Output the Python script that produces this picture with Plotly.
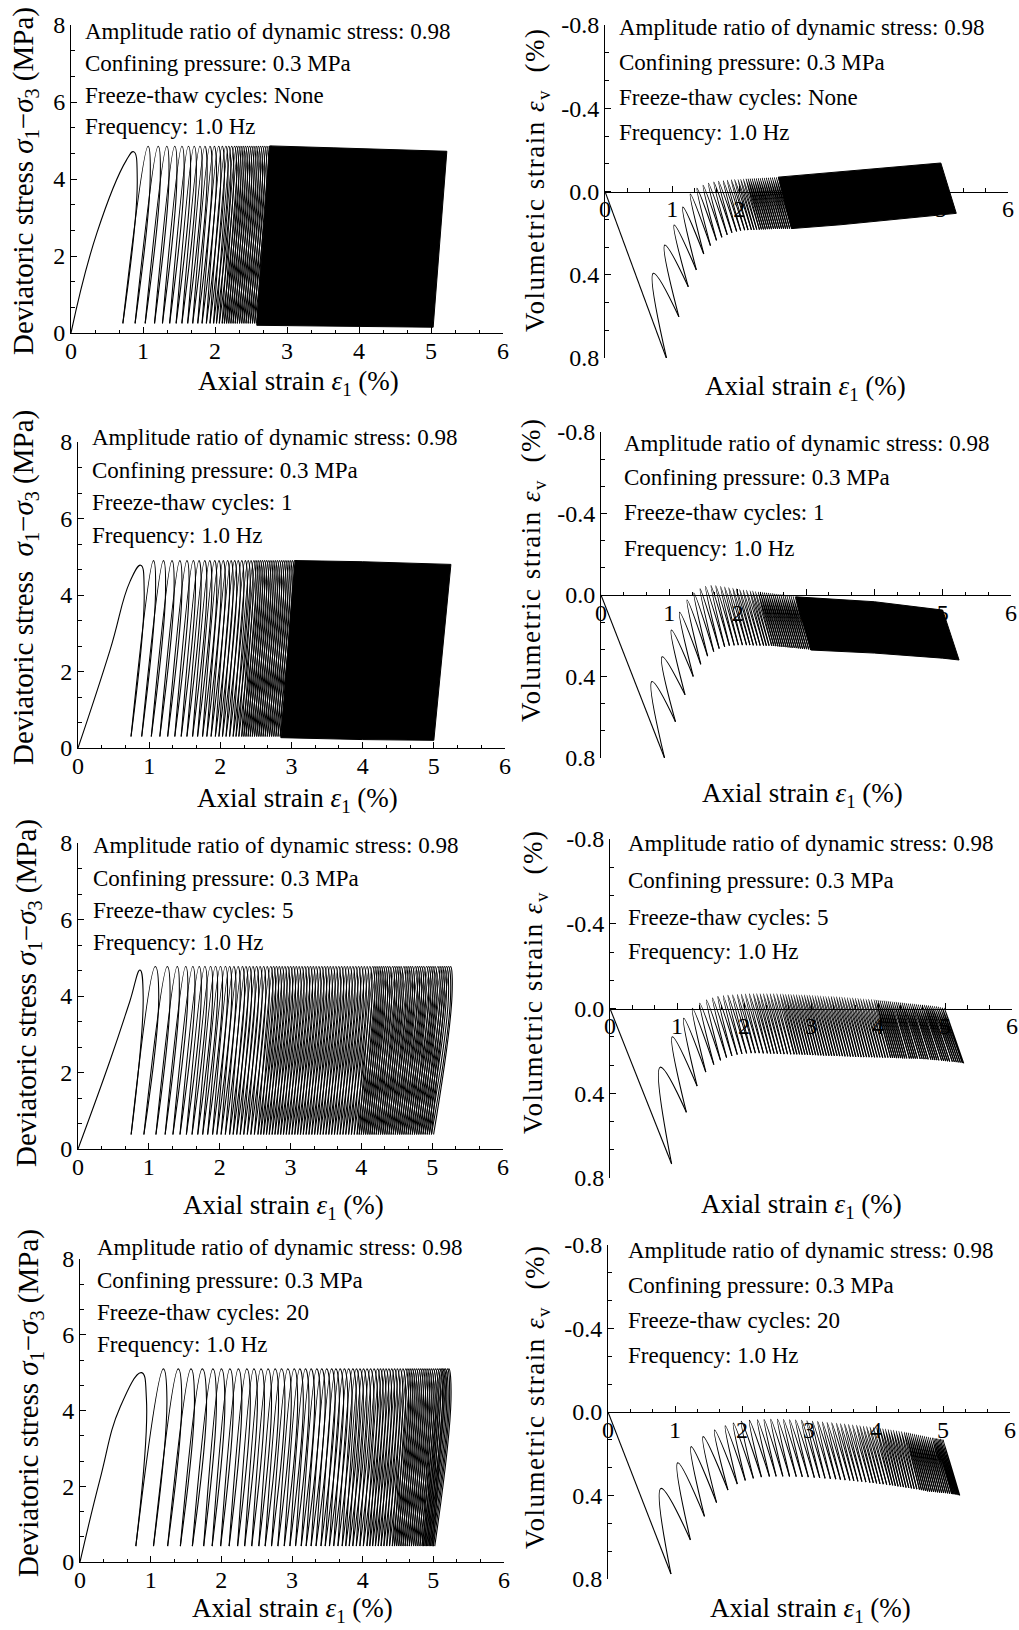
import plotly.graph_objects as go

W, H = 1019, 1630
FONT = "Liberation Serif"

# ---------------- data ----------------
# Row 1: no freeze-thaw.  Per cycle: valley strain (min stress), peak strain (max stress),
# max strain (shoulder just after the peak)
a_init_x = [0.0, 0.36, 0.77]
a_init_y = [0.0, 2.60, 4.49]
a_valley = [0.72, 0.89, 1.03, 1.16, 1.27, 1.37, 1.46, 1.54, 1.62, 1.69,
            1.76, 1.82, 1.88, 1.93, 1.98, 2.02, 2.06, 2.10, 2.13, 2.16,
            2.19, 2.22, 2.25, 2.28, 2.31, 2.34, 2.37, 2.40, 2.43, 2.46,
            2.49, 2.52, 2.55, 2.58, 2.61]
a_peak = [0.87, 1.07, 1.21, 1.33, 1.44, 1.54, 1.63, 1.71, 1.79, 1.86,
          1.93, 1.99, 2.05, 2.10, 2.15, 2.19, 2.23, 2.27, 2.30, 2.33,
          2.36, 2.39, 2.42, 2.45, 2.48, 2.51, 2.54, 2.57, 2.60, 2.63,
          2.66, 2.69, 2.72, 2.75, 2.78]
a_maxstrain = [0.92, 1.10, 1.24, 1.36, 1.47, 1.57, 1.66, 1.74, 1.82, 1.89,
               1.96, 2.02, 2.08, 2.13, 2.18, 2.22, 2.26, 2.30, 2.33, 2.36,
               2.39, 2.42, 2.45, 2.48, 2.51, 2.54, 2.57, 2.60, 2.63, 2.66,
               2.69, 2.72, 2.75, 2.78, 2.81]
a_stress = [4.71, 4.85, 4.00, 0.25]   # first peak, later peaks, shoulder, valleys (MPa)
a_dense_x = [2.58, 2.76, 3.64, 5.22, 5.03, 3.80]
a_dense_y = [0.20, 4.86, 4.81, 4.72, 0.15, 0.17]
b_top = [0.393, 0.257, 0.161, 0.075, 0.012, -0.015, -0.030, -0.040, -0.045, -0.049,
         -0.052, -0.054, -0.056, -0.057, -0.058, -0.059, -0.060, -0.061, -0.061, -0.062,
         -0.062, -0.063, -0.063, -0.064, -0.064, -0.065, -0.065, -0.066, -0.066, -0.067,
         -0.067, -0.068, -0.068, -0.069, -0.069]
b_bottom = [0.806, 0.602, 0.458, 0.377, 0.300, 0.260, 0.235, 0.220, 0.208, 0.198,
            0.192, 0.188, 0.186, 0.185, 0.184, 0.184, 0.183, 0.183, 0.182, 0.182,
            0.182, 0.181, 0.181, 0.181, 0.180, 0.180, 0.180, 0.180, 0.179, 0.179,
            0.179, 0.179, 0.178, 0.178, 0.178]
b_dense_x = [2.58, 3.47, 5.00, 5.23, 3.50, 2.78]
b_dense_y = [-0.069, -0.095, -0.137, 0.105, 0.160, 0.178]

# Row 2: 1 freeze-thaw cycle
c_init_x = [0.0, 0.45, 0.73]
c_init_y = [0.0, 2.56, 4.35]
c_valley = [0.745, 0.895, 1.03, 1.15, 1.26, 1.36, 1.45, 1.53, 1.61, 1.68,
            1.75, 1.81, 1.87, 1.93, 1.98, 2.03, 2.08, 2.13, 2.18, 2.22,
            2.26, 2.30, 2.33, 2.36, 2.39, 2.42, 2.45, 2.48, 2.51, 2.54,
            2.57, 2.60, 2.63, 2.66, 2.69, 2.72, 2.75, 2.78, 2.81, 2.84,
            2.87, 2.90]
c_peak = [0.88, 1.06, 1.20, 1.32, 1.43, 1.53, 1.62, 1.70, 1.78, 1.85,
          1.92, 1.98, 2.04, 2.10, 2.15, 2.20, 2.25, 2.30, 2.35, 2.39,
          2.43, 2.47, 2.50, 2.53, 2.56, 2.59, 2.62, 2.65, 2.68, 2.71,
          2.74, 2.77, 2.80, 2.83, 2.86, 2.89, 2.92, 2.95, 2.98, 3.01,
          3.04, 3.07]
c_maxstrain = [0.93, 1.09, 1.23, 1.35, 1.46, 1.56, 1.65, 1.73, 1.81, 1.88,
               1.95, 2.01, 2.07, 2.13, 2.18, 2.23, 2.28, 2.33, 2.38, 2.42,
               2.46, 2.50, 2.53, 2.56, 2.59, 2.62, 2.65, 2.68, 2.71, 2.74,
               2.77, 2.80, 2.83, 2.86, 2.89, 2.92, 2.95, 2.98, 3.01, 3.04,
               3.07, 3.10]
c_stress = [4.78, 4.90, 4.10, 0.30]
c_dense_x = [2.85, 3.05, 4.00, 5.24, 5.00, 4.00]
c_dense_y = [0.27, 4.90, 4.87, 4.80, 0.20, 0.22]
d_top = [0.425, 0.303, 0.172, 0.085, 0.025, -0.010, -0.030, -0.042, -0.046, -0.045,
         -0.042, -0.039, -0.036, -0.033, -0.030, -0.027, -0.025, -0.023, -0.021, -0.019,
         -0.017, -0.015, -0.014, -0.013, -0.012, -0.011, -0.010, -0.009, -0.008, -0.006,
         -0.005, -0.004, -0.003, -0.002, 0.000, 0.002, 0.003, 0.005, 0.006, 0.008,
         0.010, 0.012]
d_bottom = [0.800, 0.622, 0.490, 0.400, 0.340, 0.300, 0.278, 0.263, 0.254, 0.249,
            0.247, 0.246, 0.246, 0.246, 0.246, 0.247, 0.247, 0.248, 0.248, 0.249,
            0.249, 0.250, 0.250, 0.251, 0.252, 0.253, 0.254, 0.255, 0.256, 0.257,
            0.258, 0.259, 0.260, 0.261, 0.262, 0.263, 0.264, 0.265, 0.266, 0.267,
            0.268, 0.270]
d_dense_x = [2.85, 4.00, 5.00, 5.24, 5.00, 4.00, 3.07]
d_dense_y = [0.009, 0.033, 0.074, 0.319, 0.310, 0.285, 0.270]

# Row 3: 5 freeze-thaw cycles
e_init_x = [0.0, 0.45, 0.73]
e_init_y = [0.0, 2.30, 3.85]
e_valley = [0.75, 0.93, 1.10, 1.23, 1.34, 1.44, 1.53, 1.61, 1.69, 1.76,
            1.83, 1.90, 1.96, 2.02, 2.08, 2.14, 2.19, 2.24, 2.29, 2.34,
            2.39, 2.44, 2.49, 2.54, 2.58, 2.62, 2.66, 2.70, 2.74, 2.78,
            2.82, 2.86, 2.90, 2.94, 2.98, 3.02, 3.06, 3.10, 3.14, 3.18,
            3.22, 3.26, 3.30, 3.34, 3.38, 3.42, 3.46, 3.50, 3.54, 3.58,
            3.62, 3.66, 3.70, 3.74, 3.78, 3.82, 3.86, 3.90, 3.94, 3.97,
            4.00, 4.03, 4.06, 4.09, 4.12, 4.15, 4.18, 4.21, 4.24, 4.27,
            4.30, 4.33, 4.36, 4.39, 4.42, 4.45, 4.48, 4.51, 4.54, 4.57,
            4.60, 4.63, 4.66, 4.69, 4.72, 4.75, 4.78, 4.81, 4.84, 4.87,
            4.90, 4.93, 4.96, 4.99, 5.02]
e_peak = [0.875, 1.09, 1.26, 1.40, 1.52, 1.62, 1.71, 1.79, 1.87, 1.94,
          2.01, 2.08, 2.14, 2.20, 2.26, 2.32, 2.37, 2.42, 2.47, 2.52,
          2.57, 2.62, 2.67, 2.72, 2.76, 2.80, 2.84, 2.88, 2.92, 2.96,
          3.00, 3.04, 3.08, 3.12, 3.16, 3.20, 3.24, 3.28, 3.32, 3.36,
          3.40, 3.44, 3.48, 3.52, 3.56, 3.60, 3.64, 3.68, 3.72, 3.76,
          3.80, 3.84, 3.88, 3.92, 3.96, 4.00, 4.04, 4.08, 4.12, 4.16,
          4.19, 4.22, 4.25, 4.28, 4.31, 4.34, 4.37, 4.40, 4.44, 4.47,
          4.50, 4.53, 4.56, 4.60, 4.63, 4.66, 4.69, 4.72, 4.76, 4.79,
          4.82, 4.85, 4.88, 4.92, 4.95, 4.98, 5.01, 5.04, 5.08, 5.11,
          5.14, 5.17, 5.20, 5.23, 5.26]
e_maxstrain = [0.92, 1.14, 1.30, 1.43, 1.55, 1.65, 1.74, 1.82, 1.90, 1.97,
               2.04, 2.11, 2.17, 2.23, 2.29, 2.35, 2.40, 2.45, 2.50, 2.55,
               2.60, 2.65, 2.70, 2.75, 2.79, 2.83, 2.87, 2.91, 2.95, 2.99,
               3.03, 3.07, 3.11, 3.15, 3.19, 3.23, 3.27, 3.31, 3.35, 3.39,
               3.43, 3.47, 3.51, 3.55, 3.59, 3.63, 3.67, 3.71, 3.75, 3.79,
               3.83, 3.87, 3.91, 3.95, 3.99, 4.03, 4.07, 4.11, 4.15, 4.19,
               4.22, 4.25, 4.28, 4.31, 4.34, 4.37, 4.40, 4.43, 4.47, 4.50,
               4.53, 4.56, 4.59, 4.63, 4.66, 4.69, 4.72, 4.75, 4.79, 4.82,
               4.85, 4.88, 4.91, 4.95, 4.98, 5.01, 5.04, 5.07, 5.11, 5.14,
               5.17, 5.20, 5.23, 5.26, 5.28]
e_stress = [4.68, 4.77, 4.00, 0.38]
f_top = [0.277, 0.133, 0.046, -0.001, -0.025, -0.040, -0.050, -0.056, -0.060, -0.062,
         -0.064, -0.066, -0.067, -0.068, -0.069, -0.069, -0.069, -0.069, -0.069, -0.069,
         -0.069, -0.069, -0.069, -0.068, -0.068, -0.067, -0.067, -0.066, -0.066, -0.065,
         -0.064, -0.064, -0.063, -0.062, -0.062, -0.061, -0.060, -0.060, -0.059, -0.058,
         -0.057, -0.057, -0.056, -0.055, -0.055, -0.054, -0.053, -0.052, -0.051, -0.050,
         -0.049, -0.048, -0.047, -0.046, -0.045, -0.044, -0.043, -0.042, -0.041, -0.040,
         -0.039, -0.038, -0.037, -0.036, -0.035, -0.034, -0.033, -0.032, -0.031, -0.030,
         -0.029, -0.028, -0.027, -0.026, -0.025, -0.024, -0.023, -0.022, -0.021, -0.020,
         -0.019, -0.018, -0.017, -0.016, -0.015, -0.014, -0.013, -0.012, -0.011, -0.010,
         -0.008, -0.006, -0.004, -0.002, 0.000]
f_bottom = [0.734, 0.490, 0.366, 0.300, 0.265, 0.245, 0.232, 0.224, 0.218, 0.214,
            0.212, 0.211, 0.211, 0.211, 0.212, 0.212, 0.213, 0.213, 0.214, 0.214,
            0.215, 0.215, 0.216, 0.216, 0.217, 0.217, 0.218, 0.218, 0.219, 0.219,
            0.220, 0.220, 0.221, 0.221, 0.222, 0.222, 0.223, 0.223, 0.224, 0.224,
            0.225, 0.225, 0.226, 0.226, 0.227, 0.227, 0.228, 0.228, 0.229, 0.229,
            0.230, 0.230, 0.230, 0.231, 0.231, 0.231, 0.232, 0.232, 0.232, 0.233,
            0.233, 0.233, 0.234, 0.234, 0.234, 0.235, 0.235, 0.235, 0.236, 0.236,
            0.236, 0.237, 0.237, 0.238, 0.238, 0.239, 0.239, 0.240, 0.241, 0.242,
            0.243, 0.244, 0.245, 0.246, 0.247, 0.248, 0.249, 0.250, 0.251, 0.252,
            0.253, 0.254, 0.255, 0.257, 0.259]

# Row 4: 20 freeze-thaw cycles
g_init_x = [0.0, 0.28, 0.57]
g_init_y = [0.0, 2.16, 4.10]
g_valley = [0.79, 1.04, 1.24, 1.42, 1.59, 1.75, 1.87, 1.99, 2.11, 2.23,
            2.33, 2.43, 2.53, 2.62, 2.71, 2.80, 2.89, 2.97, 3.05, 3.13,
            3.20, 3.27, 3.34, 3.41, 3.47, 3.53, 3.59, 3.65, 3.71, 3.76,
            3.81, 3.86, 3.91, 3.96, 4.01, 4.06, 4.10, 4.14, 4.18, 4.22,
            4.26, 4.30, 4.34, 4.38, 4.42, 4.45, 4.48, 4.51, 4.54, 4.57,
            4.60, 4.63, 4.66, 4.69, 4.72, 4.75, 4.78, 4.81, 4.84, 4.86,
            4.88, 4.90, 4.92, 4.94, 4.96, 4.98, 5.00, 5.02]
g_peak = [0.87, 1.18, 1.39, 1.57, 1.73, 1.88, 2.00, 2.12, 2.24, 2.36,
          2.46, 2.56, 2.66, 2.76, 2.85, 2.94, 3.03, 3.11, 3.19, 3.27,
          3.35, 3.42, 3.49, 3.56, 3.62, 3.68, 3.74, 3.80, 3.86, 3.91,
          3.96, 4.01, 4.06, 4.11, 4.16, 4.21, 4.25, 4.29, 4.33, 4.37,
          4.41, 4.45, 4.49, 4.53, 4.57, 4.61, 4.64, 4.67, 4.70, 4.73,
          4.76, 4.79, 4.82, 4.85, 4.88, 4.91, 4.94, 4.97, 5.00, 5.03,
          5.06, 5.09, 5.11, 5.13, 5.15, 5.17, 5.20, 5.22]
g_maxstrain = [0.94, 1.23, 1.44, 1.62, 1.79, 1.93, 2.05, 2.17, 2.29, 2.41,
               2.51, 2.61, 2.71, 2.81, 2.90, 2.99, 3.08, 3.16, 3.24, 3.32,
               3.40, 3.47, 3.54, 3.61, 3.67, 3.73, 3.79, 3.85, 3.91, 3.96,
               4.01, 4.06, 4.11, 4.16, 4.21, 4.25, 4.29, 4.33, 4.37, 4.41,
               4.45, 4.49, 4.53, 4.57, 4.61, 4.65, 4.68, 4.71, 4.74, 4.77,
               4.80, 4.83, 4.86, 4.89, 4.92, 4.95, 4.98, 5.01, 5.04, 5.07,
               5.10, 5.13, 5.15, 5.17, 5.19, 5.21, 5.23, 5.25]
g_stress = [5.00, 5.10, 4.30, 0.42]
h_top = [0.366, 0.243, 0.166, 0.118, 0.086, 0.066, 0.053, 0.045, 0.040, 0.037,
         0.036, 0.035, 0.035, 0.036, 0.037, 0.038, 0.040, 0.042, 0.044, 0.046,
         0.048, 0.050, 0.052, 0.054, 0.056, 0.058, 0.060, 0.062, 0.064, 0.066,
         0.068, 0.070, 0.072, 0.074, 0.076, 0.078, 0.080, 0.082, 0.084, 0.086,
         0.088, 0.090, 0.092, 0.094, 0.096, 0.098, 0.100, 0.102, 0.104, 0.106,
         0.108, 0.110, 0.112, 0.114, 0.116, 0.118, 0.120, 0.122, 0.124, 0.125,
         0.126, 0.127, 0.128, 0.129, 0.130, 0.131, 0.132, 0.134]
h_bottom = [0.776, 0.613, 0.500, 0.434, 0.374, 0.345, 0.328, 0.318, 0.312, 0.309,
            0.308, 0.308, 0.309, 0.310, 0.311, 0.312, 0.314, 0.316, 0.318, 0.320,
            0.322, 0.324, 0.326, 0.328, 0.330, 0.332, 0.334, 0.336, 0.338, 0.340,
            0.342, 0.344, 0.346, 0.348, 0.350, 0.352, 0.354, 0.356, 0.358, 0.360,
            0.362, 0.364, 0.366, 0.368, 0.370, 0.372, 0.374, 0.376, 0.378, 0.380,
            0.381, 0.382, 0.383, 0.384, 0.385, 0.386, 0.387, 0.388, 0.389, 0.390,
            0.391, 0.392, 0.393, 0.394, 0.395, 0.396, 0.398, 0.400]

ft_labels = ["None", "1", "5", "20"]
info_lines = ["Amplitude ratio of dynamic stress: 0.98",
              "Confining pressure: 0.3 MPa",
              "Freeze-thaw cycles: {}",
              "Frequency: 1.0 Hz"]
x_ticks = [0, 1, 2, 3, 4, 5, 6]
stress_ticks = [0, 2, 4, 6, 8]
vol_ticks = [-0.8, -0.4, 0.0, 0.4, 0.8]
vol_ticktext = ["-0.8", "-0.4", "0.0", "0.4", "0.8"]

# ---------------- layout geometry (pixels) ----------------
geom = {  # (left, right, top, bottom) of each plot area
    1: (71, 503, 25, 333), 2: (605, 1008, 25, 358),
    3: (78, 505, 442, 748), 4: (601, 1011, 432, 758),
    5: (78, 503, 843, 1149), 6: (610, 1012, 839, 1178),
    7: (80, 504, 1259, 1562), 8: (608, 1010, 1245, 1579),
}
text_pos = {  # info-text left x, info line centre ys, y-title (x, y), x-title (x, y)
    1: (83, [31, 63, 95, 127], (25, 181), (298, 383)),
    2: (617, [27, 62, 98, 133], (537, 180), (805, 388)),
    3: (90, [437, 470, 502, 535], (25, 588), (297, 800)),
    4: (622, [443, 478, 513, 548], (533, 570), (802, 795)),
    5: (91, [845, 878, 910, 942], (28, 993), (283, 1207)),
    6: (626, [843, 880, 917, 952], (535, 982), (801, 1206)),
    7: (95, [1247, 1280, 1312, 1344], (30, 1403), (292, 1610)),
    8: (626, [1250, 1285, 1320, 1355], (537, 1397), (810, 1610)),
}


def px(x):
    return x / W


def py(y):
    return 1 - y / H


def stress_path(valley, peak, mx, st, ix, iy):
    first, top, shoulder, low = st
    xs = list(ix) + [peak[0], mx[0], valley[0], None]
    ys = list(iy) + [first, shoulder, low, None]
    n = min(len(valley), len(peak), len(mx))
    for i in range(1, n):
        xs += [valley[i - 1], peak[i], mx[i], valley[i], None]
        ys += [low, top, shoulder, low, None]
    return xs, ys


def vol_path(valley, mx, tops, bottoms):
    n = min(len(valley), len(mx), len(tops), len(bottoms))
    xs = [0, mx[0], None]
    ys = [0, bottoms[0], None]
    for i in range(n - 1):
        xs += [mx[i], valley[i], mx[i + 1], None]
        ys += [bottoms[i], tops[i], bottoms[i + 1], None]
    return xs, ys


fig = go.Figure()


def axid(k, letter):
    return letter if k == 1 else f"{letter}{k}"


def add_curve(k, xs, ys):
    fig.add_trace(go.Scatter(
        x=xs, y=ys, mode="lines", xaxis=axid(k, "x"), yaxis=axid(k, "y"),
        line=dict(color="black", width=1.1, shape="spline", smoothing=1.3),
        connectgaps=False, showlegend=False, hoverinfo="skip"))


def add_dense(k, xs, ys):
    fig.add_trace(go.Scatter(
        x=xs + [xs[0]], y=ys + [ys[0]], mode="lines", fill="toself",
        fillcolor="black", xaxis=axid(k, "x"), yaxis=axid(k, "y"),
        line=dict(color="black", width=1), showlegend=False, hoverinfo="skip"))


for k, (v, p, m, st, ix, iy) in {
        1: (a_valley, a_peak, a_maxstrain, a_stress, a_init_x, a_init_y),
        3: (c_valley, c_peak, c_maxstrain, c_stress, c_init_x, c_init_y),
        5: (e_valley, e_peak, e_maxstrain, e_stress, e_init_x, e_init_y),
        7: (g_valley, g_peak, g_maxstrain, g_stress, g_init_x, g_init_y)}.items():
    xs, ys = stress_path(v, p, m, st, ix, iy)
    add_curve(k, xs, ys)
add_dense(1, a_dense_x, a_dense_y)
add_dense(3, c_dense_x, c_dense_y)

for k, (v, m, t, b) in {2: (a_valley, a_maxstrain, b_top, b_bottom),
                        4: (c_valley, c_maxstrain, d_top, d_bottom),
                        6: (e_valley, e_maxstrain, f_top, f_bottom),
                        8: (g_valley, g_maxstrain, h_top, h_bottom)}.items():
    xs, ys = vol_path(v, m, t, b)
    add_curve(k, xs, ys)
add_dense(2, b_dense_x, b_dense_y)
add_dense(4, d_dense_x, d_dense_y)

TICKFONT = dict(family=FONT, size=24, color="black")
layout = dict(template="none", width=W, height=H, margin=dict(l=0, r=0, t=0, b=0, pad=0),
              paper_bgcolor="white", plot_bgcolor="rgba(0,0,0,0)",
              showlegend=False, font=dict(family=FONT, color="black"))

annotations = []
for k in range(1, 9):
    l, r, t, b = geom[k]
    stress = (k % 2 == 1)
    common = dict(showline=True, linecolor="black", linewidth=1, showgrid=False, zeroline=False,
                  ticks="inside", ticklen=6, tickwidth=1, tickcolor="black", tickfont=TICKFONT,
                  mirror=False, automargin=False, ticklabeloverflow="allow")
    xdict = dict(common, domain=[px(l), px(r)], range=[0, 6], tickmode="array", tickvals=x_ticks,
                 ticklabelstandoff=-4,
                 minor=dict(tickmode="linear", tick0=0, dtick=1 / 3, ticks="inside", ticklen=3.5,
                            tickwidth=1, tickcolor="black", showgrid=False))
    if stress:
        xdict.update(anchor=axid(k, "y"), side="bottom")
        ydict = dict(common, domain=[py(b), py(t)], range=[0, 8], anchor=axid(k, "x"),
                     tickmode="array", tickvals=stress_ticks,
                     minor=dict(tickmode="linear", tick0=0, dtick=2 / 3, ticks="inside",
                                ticklen=3.5, tickwidth=1, tickcolor="black", showgrid=False))
    else:
        zero_px = t + (0 - (-0.8)) / 1.6 * (b - t)
        xdict.update(anchor="free", position=py(zero_px), side="bottom", layer="below traces")
        ydict = dict(common, domain=[py(b), py(t)], range=[0.8, -0.8], anchor=axid(k, "x"),
                     tickmode="array", tickvals=vol_ticks, ticktext=vol_ticktext,
                     minor=dict(tickmode="linear", tick0=-0.8, dtick=0.4 / 3, ticks="inside",
                                ticklen=3.5, tickwidth=1, tickcolor="black", showgrid=False))
    layout["xaxis" if k == 1 else f"xaxis{k}"] = xdict
    layout["yaxis" if k == 1 else f"yaxis{k}"] = ydict

    tx, tys, (ytx, yty), (xtx, xty) = text_pos[k]
    ft = ft_labels[(k - 1) // 2]
    for line, yy in zip(info_lines, tys):
        annotations.append(dict(text=line.format(ft), x=px(tx), y=py(yy), xref="paper", yref="paper",
                                xanchor="left", yanchor="middle", showarrow=False,
                                font=dict(family=FONT, size=23, color="black")))
    if stress:
        gap = "\u00a0\u00a0" if k == 3 else " "
        ytitle = "Deviatoric stress" + gap + "<i>σ</i><sub>1</sub>−<i>σ</i><sub>3</sub> (MPa)"
        ysize = 29
    else:
        ytitle = ("<span style='letter-spacing:1.5px'>Volumetric strain\u00a0<i>ε</i><sub>v</sub>"
                  "\u00a0\u00a0(%)</span>")
        ysize = 27
    annotations.append(dict(text=ytitle, x=px(ytx), y=py(yty), xref="paper", yref="paper",
                            xanchor="center", yanchor="middle", textangle=-90, showarrow=False,
                            font=dict(family=FONT, size=ysize, color="black")))
    annotations.append(dict(text="Axial strain <i>ε</i><sub>1</sub> (%)", x=px(xtx), y=py(xty),
                            xref="paper", yref="paper", xanchor="center", yanchor="middle",
                            showarrow=False, font=dict(family=FONT, size=27, color="black")))

layout["annotations"] = annotations
fig.update_layout(**layout)
fig.write_html("out.html", config={"displayModeBar": False},
               post_script="document.body.style.margin='0px';document.body.style.overflow='hidden';")
